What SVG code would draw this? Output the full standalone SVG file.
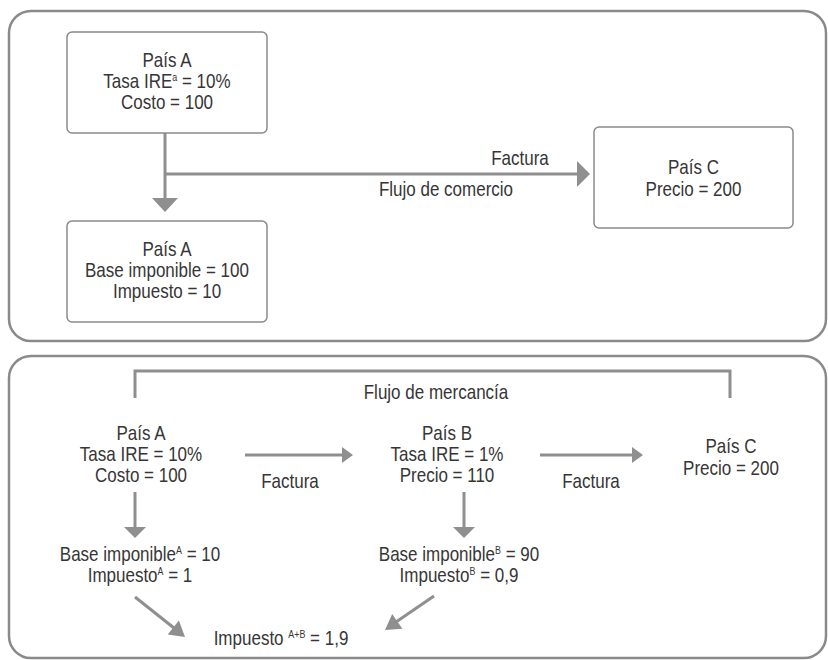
<svg xmlns="http://www.w3.org/2000/svg" width="828" height="660" viewBox="0 0 828 660">
<style>
.panel{fill:none;stroke:#8a8a8a;stroke-width:2.5}
.box{fill:#fff;stroke:#8a8a8a;stroke-width:1.5}
.ln{fill:none;stroke:#8f8f8f;stroke-width:3}
.hd{fill:#8f8f8f;stroke:none}
text{font-family:"Liberation Sans",Arial,sans-serif;font-size:21px;fill:#363636;text-anchor:middle}
.sup{font-size:11px}
</style>
<rect width="828" height="660" fill="#fff"/>
<rect class="panel" x="9" y="11" width="817" height="330" rx="22"/>
<rect class="panel" x="9" y="356" width="817" height="302" rx="22"/>

<g id="connectors">
  <line class="ln" x1="165" y1="133" x2="165" y2="199"/>
  <polygon class="hd" points="152,198 178,198 165,212"/>
  <line class="ln" x1="165" y1="174" x2="578" y2="174"/>
  <polygon class="hd" points="577,161 577,187 590,174"/>

  <polyline class="ln" points="135,398 135,371 730,371 730,398"/>
  <line class="ln" x1="245" y1="455" x2="343" y2="455"/>
  <polygon class="hd" points="342,447 342,463 353,455"/>
  <line class="ln" x1="540" y1="455" x2="633" y2="455"/>
  <polygon class="hd" points="632,447 632,463 643,455"/>
  <line class="ln" x1="135" y1="492" x2="135" y2="528"/>
  <polygon class="hd" points="124,527 146,527 135,538"/>
  <line class="ln" x1="464" y1="492" x2="464" y2="528"/>
  <polygon class="hd" points="453,527 475,527 464,538"/>
  <line class="ln" x1="135" y1="597" x2="174" y2="628"/>
  <polygon class="hd" points="167.7,634.6 178.9,620.6 185,637"/>
  <line class="ln" x1="434" y1="596" x2="396" y2="622"/>
  <polygon class="hd" points="392.2,614 402.4,628.8 385,630"/>
</g>

<g id="label-factura-top">
  <text transform="translate(520,165) scale(.81,1)">Factura</text>
  <text transform="translate(446,196) scale(.81,1)">Flujo de comercio</text>
</g>

<g id="nodeA1">
  <rect class="box" x="67" y="32" width="200" height="101" rx="5"/>
  <text transform="translate(167,67) scale(.81,1)">País A</text>
  <text transform="translate(167,88) scale(.81,1)">Tasa IRE<tspan class="sup" dy="-7">a</tspan><tspan dy="7"> = 10%</tspan></text>
  <text transform="translate(167,109) scale(.81,1)">Costo = 100</text>
</g>
<g id="nodeA2">
  <rect class="box" x="67" y="221" width="200" height="101" rx="5"/>
  <text transform="translate(167,256) scale(.81,1)">País A</text>
  <text transform="translate(167,277) scale(.81,1)">Base imponible = 100</text>
  <text transform="translate(167,298) scale(.81,1)">Impuesto = 10</text>
</g>
<g id="nodeC1">
  <rect class="box" x="594" y="127" width="199" height="101" rx="5"/>
  <text transform="translate(693.5,174) scale(.81,1)">País C</text>
  <text transform="translate(693.5,196) scale(.81,1)">Precio = 200</text>
</g>

<g id="label-mercancia">
  <text transform="translate(436,399) scale(.81,1)">Flujo de mercancía</text>
</g>
<g id="nodeA3">
  <text transform="translate(141,440) scale(.81,1)">País A</text>
  <text transform="translate(141,461) scale(.81,1)">Tasa IRE = 10%</text>
  <text transform="translate(141,482) scale(.81,1)">Costo = 100</text>
</g>
<g id="nodeB">
  <text transform="translate(447,440) scale(.81,1)">País B</text>
  <text transform="translate(447,461) scale(.81,1)">Tasa IRE = 1%</text>
  <text transform="translate(447,482) scale(.81,1)">Precio = 110</text>
</g>
<g id="nodeC2">
  <text transform="translate(731,453) scale(.81,1)">País C</text>
  <text transform="translate(731,475) scale(.81,1)">Precio = 200</text>
</g>
<g id="label-factura-1"><text transform="translate(290,488) scale(.81,1)">Factura</text></g>
<g id="label-factura-2"><text transform="translate(591,488) scale(.81,1)">Factura</text></g>
<g id="nodeBaseA">
  <text transform="translate(140,561) scale(.81,1)">Base imponible<tspan class="sup" dy="-7">A</tspan><tspan dy="7"> = 10</tspan></text>
  <text transform="translate(140,582) scale(.81,1)">Impuesto<tspan class="sup" dy="-7">A</tspan><tspan dy="7"> = 1</tspan></text>
</g>
<g id="nodeBaseB">
  <text transform="translate(459,561) scale(.81,1)">Base imponible<tspan class="sup" dy="-7">B</tspan><tspan dy="7"> = 90</tspan></text>
  <text transform="translate(459,582) scale(.81,1)">Impuesto<tspan class="sup" dy="-7">B</tspan><tspan dy="7"> = 0,9</tspan></text>
</g>
<g id="nodeTotal">
  <text transform="translate(281,645) scale(.81,1)">Impuesto <tspan class="sup" dy="-7">A+B</tspan><tspan dy="7"> = 1,9</tspan></text>
</g>
</svg>
